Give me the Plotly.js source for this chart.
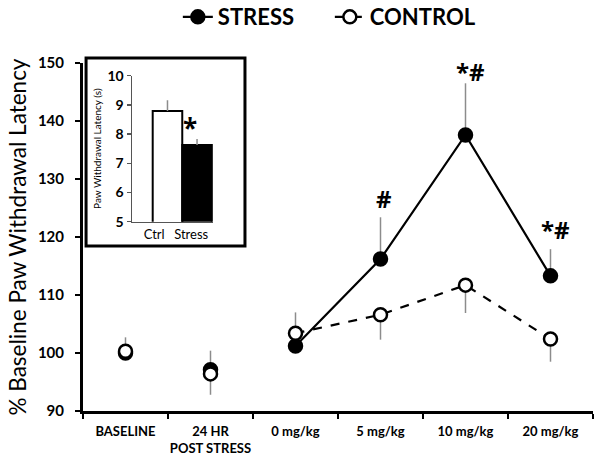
<!DOCTYPE html>
<html><head><meta charset="utf-8">
<script src="https://cdn.plot.ly/plotly-3.0.1.min.js"></script>
<style>html,body{margin:0;padding:0;background:#fff}#chart{width:604px;height:463px}</style>
</head><body><div id="chart"></div>
<script>
// Main chart categories
const allCategories = ['BASELINE', '24 HR<br>POST STRESS', '0 mg/kg', '5 mg/kg', '10 mg/kg', '20 mg/kg'];
const preCategories = ['BASELINE', '24 HR<br>POST STRESS'];
const doseCategories = ['0 mg/kg', '5 mg/kg', '10 mg/kg', '20 mg/kg'];

// STRESS group (% baseline)
const stressPre = [100, 97.1];
const stressPreErrUp = [0, 3.3];
const stressDose = [101.2, 116.2, 137.6, 113.3];
const stressDoseErrUp = [0, 7.2, 8.9, 4.6];

// CONTROL group (% baseline)
const controlPre = [100.3, 96.4];
const controlPreErrUp = [2.4, 0];
const controlPreErrDown = [0, 3.6];
const controlDose = [103.4, 106.6, 111.7, 102.4];
const controlDoseErrUp = [3.6, 0, 0, 0];
const controlDoseErrDown = [0, 4.3, 4.8, 3.9];

// Inset bar chart
const insetCategories = ['Ctrl', 'Stress'];
const insetValues = [8.79, 7.63];
const insetErr = [0.37, 0.2];

// Significance labels
const sigCategories = ['5 mg/kg', '10 mg/kg', '20 mg/kg'];
const sigLabels = ['#', '*#', '*#'];
const sigY = [126.7, 148.6, 121.3];

const FONT = 'Lato, Carlito, "Open Sans", sans-serif';
const SIGFONT = '"Open Sans", Lato, sans-serif';
const errStyle = {color: '#8c8c8c', thickness: 1.5, width: 0};
const stressMarker = {symbol: 'circle', size: 13, color: '#000', line: {color: '#000', width: 2.5}};
const controlMarker = {symbol: 'circle', size: 13, color: '#fff', line: {color: '#000', width: 2.5}};

const traces = [
  {type: 'scatter', mode: 'markers', x: preCategories, y: stressPre, showlegend: false,
   marker: stressMarker, error_y: Object.assign({type: 'data', symmetric: false, array: stressPreErrUp, arrayminus: [0, 0]}, errStyle)},
  {type: 'scatter', mode: 'lines+markers', name: 'STRESS', x: doseCategories, y: stressDose,
   line: {color: '#000', width: 2.2}, marker: stressMarker,
   error_y: Object.assign({type: 'data', symmetric: false, array: stressDoseErrUp, arrayminus: [0, 0, 0, 0]}, errStyle)},
  {type: 'scatter', mode: 'markers', x: preCategories, y: controlPre, showlegend: false,
   marker: controlMarker, error_y: Object.assign({type: 'data', symmetric: false, array: controlPreErrUp, arrayminus: controlPreErrDown}, errStyle)},
  {type: 'scatter', mode: 'lines+markers', name: 'CONTROL', x: doseCategories, y: controlDose,
   line: {color: '#000', width: 2.2, dash: 'dash'}, marker: controlMarker,
   error_y: Object.assign({type: 'data', symmetric: false, array: controlDoseErrUp, arrayminus: controlDoseErrDown}, errStyle)},
  {type: 'bar', x: [0, 1], y: insetValues, width: 1, xaxis: 'x2', yaxis: 'y2', showlegend: false,
   marker: {color: ['#fff', '#000'], line: {color: '#000', width: 2}},
   error_y: {type: 'data', symmetric: false, array: insetErr, arrayminus: [0, 0], color: '#8c8c8c', thickness: 1.5, width: 0}}
];

const annotations = sigCategories.map((c, i) => ({
  x: c, y: sigY[i], xref: 'x', yref: 'y', text: sigLabels[i], showarrow: false,
  xshift: i === 0 ? 3 : 5, font: {family: SIGFONT, size: 24, color: '#000', weight: 'bold'}
}));
annotations.push({x: 0.75, y: 8.2, xref: 'x2', yref: 'y2', text: '*', showarrow: false,
  font: {family: SIGFONT, size: 26, color: '#000', weight: 'bold'}});

const layout = {
  width: 604, height: 463,
  margin: {l: 83, r: 11, t: 63, b: 52, autoexpand: false},
  paper_bgcolor: '#fff', plot_bgcolor: 'rgba(0,0,0,0)',
  font: {family: FONT, color: '#000'},
  showlegend: true,
  legend: {orientation: 'h', x: 0.484, xanchor: 'center', y: 1.132, yanchor: 'middle', entrywidth: 107,
    font: {family: FONT, size: 22, color: '#000', weight: 'bold'}, bgcolor: 'rgba(0,0,0,0)', traceorder: 'normal'},
  xaxis: {type: 'category', categoryorder: 'array', categoryarray: allCategories, range: [-0.5, 5.5],
    tickson: 'boundaries', ticks: 'outside', ticklen: 5, tickwidth: 2, tickcolor: '#000', tickangle: 0,
    showline: true, linewidth: 3, linecolor: '#000', showgrid: false, zeroline: false,
    ticklabelstandoff: 6,
    tickfont: {family: FONT, size: 13, color: '#000', weight: 'bold'}},
  yaxis: {range: [90, 150], dtick: 10, ticks: 'outside', ticklen: 5, tickwidth: 2, tickcolor: '#000',
    showline: true, linewidth: 3, linecolor: '#000', showgrid: false, zeroline: false,
    ticklabelstandoff: 8,
    tickfont: {family: FONT, size: 15, color: '#000', weight: 'bold'},
    title: {text: '% Baseline Paw Withdrawal Latency', font: {family: FONT, size: 22.5, color: '#000'}, standoff: 6}},
  xaxis2: {domain: [0.0961, 0.2549], anchor: 'y2', range: [-1.2, 1.54], showline: true, linewidth: 1.5, linecolor: '#555',
    showgrid: false, zeroline: false, ticks: '', tickvals: [-0.45, 0.8], ticktext: insetCategories, tickangle: 0,
    tickfont: {family: FONT, size: 13, color: '#000'}},
  yaxis2: {domain: [0.544, 0.9635], anchor: 'x2', range: [5, 10], dtick: 1, ticks: 'outside', ticklen: 4, tickwidth: 1.5,
    tickcolor: '#555', showline: true, linewidth: 1.5, linecolor: '#555', showgrid: false, zeroline: false,
    tickfont: {family: FONT, size: 14, color: '#000', weight: 'bold'},
    title: {text: 'Paw Withdrawal Latency (s)', font: {family: FONT, size: 10, color: '#000'}, standoff: 4}},
  shapes: [{type: 'rect', xref: 'paper', yref: 'paper', x0: 0.006, x1: 0.3176, y0: 0.474, y1: 1.0144,
    line: {color: '#000', width: 3}, fillcolor: '#fff', layer: 'below'}],
  annotations: annotations
};

Plotly.newPlot('chart', traces, layout, {displayModeBar: false, staticPlot: true});
</script></body></html>
